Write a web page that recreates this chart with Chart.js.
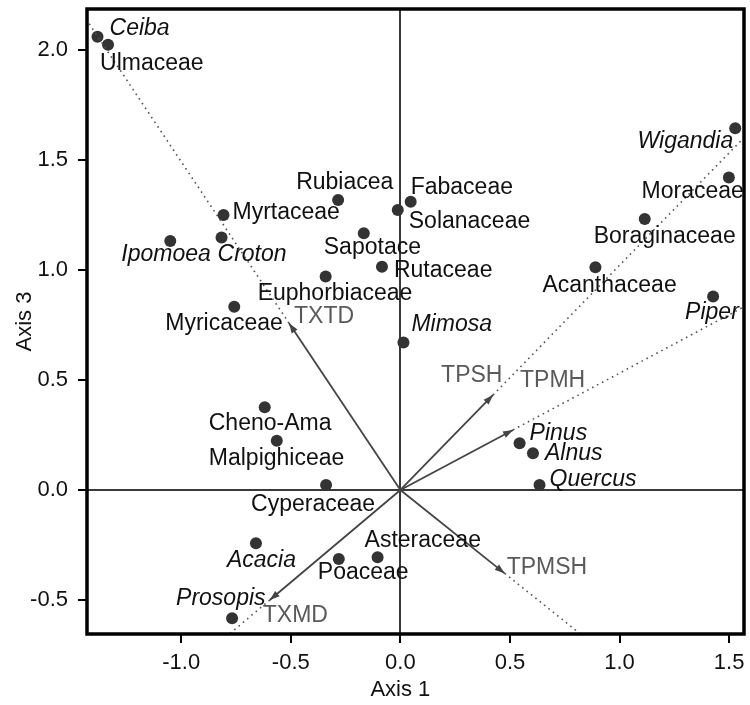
<!DOCTYPE html>
<html>
<head>
<meta charset="utf-8">
<style>
  html, body { margin: 0; padding: 0; background: #fff; }
</style>
</head>
<body>
<canvas id="myChart" width="750" height="705"></canvas>
<script src="https://cdn.jsdelivr.net/npm/chart.js@4.4.1/dist/chart.umd.min.js"></script>
<script>
// taxa scores on axis 1 / axis 3
const taxa = [
  "Ceiba", "Ulmaceae", "Myrtaceae", "Croton", "Ipomoea", "Rubiacea",
  "Sapotace", "Euphorbiaceae", "Myricaceae", "Fabaceae", "Solanaceae",
  "Rutaceae", "Mimosa", "Wigandia", "Moraceae", "Boraginaceae",
  "Acanthaceae", "Piper", "Cheno-Ama", "Malpighiceae", "Cyperaceae",
  "Acacia", "Prosopis", "Poaceae", "Asteraceae", "Pinus", "Alnus", "Quercus",
];
const axis1 = [
  -1.382, -1.334, -0.807, -0.816, -1.050, -0.284,
  -0.167, -0.341, -0.758, 0.047, -0.012,
  -0.084, 0.014, 1.528, 1.499, 1.115,
  0.890, 1.427, -0.619, -0.564, -0.339,
  -0.659, -0.768, -0.281, -0.104, 0.544, 0.605, 0.635,
];
const axis3 = [
  2.060, 2.023, 1.250, 1.147, 1.132, 1.318,
  1.167, 0.970, 0.833, 1.310, 1.273,
  1.015, 0.670, 1.644, 1.420, 1.232,
  1.012, 0.879, 0.376, 0.224, 0.023,
  -0.242, -0.583, -0.314, -0.306, 0.212, 0.167, 0.023,
];
// genera are printed in italics
const genera = ["Ceiba", "Croton", "Ipomoea", "Mimosa", "Wigandia", "Piper",
  "Acacia", "Prosopis", "Pinus", "Alnus", "Quercus"];

// environmental vectors
const vectors = ["TXTD", "TXMD", "TPSH", "TPMH", "TPMSH"];
const vecAxis1 = [-0.508, -0.596, 0.423, 0.514, 0.476];
const vecAxis3 = [0.758, -0.500, 0.432, 0.273, -0.379];

const xTicks = [-1.0, -0.5, 0.0, 0.5, 1.0, 1.5];
const yTicks = [-0.5, 0.0, 0.5, 1.0, 1.5, 2.0];

// label placement (pixel offset from the point, text alignment)
const taxaLabelPos = [
  [12, -8, "left"], [-8, 19, "left"], [9, -2, "left"], [-4, 17, "left"],
  [-49, 14, "left"], [-42, -17, "left"], [-40, 14, "left"], [-68, 17, "left"],
  [-69, 17, "left"], [0, -14, "left"], [11, 12, "left"], [12, 4, "left"],
  [8, -18, "left"], [-2, 13, "right"], [15, 14, "right"], [-51, 18, "left"],
  [-53, 18, "left"], [-28, 16, "left"], [-56, 16, "left"], [-68, 18, "left"],
  [-75, 20, "left"], [-29, 17, "left"], [-56, -20, "left"], [-21, 14, "left"],
  [-13, -17, "left"], [10, -10, "left"], [12, 0, "left"], [10, -5, "left"],
];
const vecLabelPos = [[5, -7], [-7, 16], [-52, -19], [7, -49], [2, -6]];

const FONT = "'Liberation Sans', Arial, sans-serif";
const LABEL_SIZE = 23;

const ctx = document.getElementById("myChart").getContext("2d");

const datasets = [];
vectors.forEach((v, i) => {
  datasets.push({
    data: [{ x: 0, y: 0 }, { x: vecAxis1[i], y: vecAxis3[i] }],
    showLine: true,
    borderColor: "#444",
    borderWidth: 1.8,
    pointRadius: 0,
  });
  datasets.push({
    data: [{ x: vecAxis1[i], y: vecAxis3[i] }, { x: vecAxis1[i] * 8, y: vecAxis3[i] * 8 }],
    showLine: true,
    borderColor: "#555",
    borderWidth: 1.6,
    borderDash: [1.6, 4],
    pointRadius: 0,
  });
});
datasets.push({
  data: taxa.map((t, i) => ({ x: axis1[i], y: axis3[i] })),
  pointRadius: 6,
  pointBackgroundColor: "#333",
  pointBorderWidth: 0,
  showLine: false,
});

const biplotExtras = {
  id: "biplotExtras",
  afterDatasetsDraw(chart) {
    const c = chart.ctx;
    const xs = chart.scales.x;
    const ys = chart.scales.y;
    const ox = xs.getPixelForValue(0);
    const oy = ys.getPixelForValue(0);

    // arrow heads
    c.save();
    c.fillStyle = "#444";
    vectors.forEach((v, i) => {
      const px = xs.getPixelForValue(vecAxis1[i]);
      const py = ys.getPixelForValue(vecAxis3[i]);
      const a = Math.atan2(py - oy, px - ox);
      const len = 10, half = 3.5;
      c.beginPath();
      c.moveTo(px, py);
      c.lineTo(px - len * Math.cos(a) + half * Math.sin(a), py - len * Math.sin(a) - half * Math.cos(a));
      c.lineTo(px - len * Math.cos(a) - half * Math.sin(a), py - len * Math.sin(a) + half * Math.cos(a));
      c.closePath();
      c.fill();
    });

    // taxa labels
    c.textBaseline = "middle";
    c.fillStyle = "#111";
    taxa.forEach((t, i) => {
      const px = xs.getPixelForValue(axis1[i]);
      const py = ys.getPixelForValue(axis3[i]);
      const [dx, dy, align] = taxaLabelPos[i];
      c.font = (genera.includes(t) ? "italic " : "") + LABEL_SIZE + "px " + FONT;
      c.textAlign = align;
      c.fillText(t, px + dx, py + dy);
    });

    // vector labels
    c.fillStyle = "#5a5a5a";
    c.font = LABEL_SIZE + "px " + FONT;
    c.textAlign = "left";
    vectors.forEach((v, i) => {
      const px = xs.getPixelForValue(vecAxis1[i]);
      const py = ys.getPixelForValue(vecAxis3[i]);
      c.fillText(v, px + vecLabelPos[i][0], py + vecLabelPos[i][1]);
    });

    // x axis title, centred under the origin as in the original figure
    c.fillStyle = "#111";
    c.font = "22px " + FONT;
    c.textAlign = "center";
    c.fillText("Axis 1", ox, 690);
    c.restore();
  },
  afterDraw(chart) {
    const { left, top, right, bottom } = chart.chartArea;
    const c = chart.ctx;
    c.save();
    c.strokeStyle = "#000";
    c.lineWidth = 3.5;
    c.strokeRect(left, top, right - left, bottom - top);
    c.restore();
  },
};

const gridOpts = {
  drawOnChartArea: true,
  color: (c) => (c.tick && c.tick.value === 0 ? "#3a3a3a" : "rgba(0,0,0,0)"),
  lineWidth: (c) => (c.tick && c.tick.value === 0 ? 2 : 0),
  tickColor: "#000",
  tickWidth: 2,
  tickLength: 9,
};

new Chart(ctx, {
  type: "scatter",
  data: { datasets },
  options: {
    responsive: false,
    animation: false,
    layout: { padding: { top: 9, right: 3, left: 0, bottom: 0 } },
    scales: {
      x: {
        type: "linear",
        min: -1.430,
        max: 1.568,
        afterBuildTicks: (s) => { s.ticks = xTicks.map((v) => ({ value: v })); },
        afterFit: (s) => { s.height = 71; s.paddingLeft = 0; s.paddingRight = 0; },
        grid: gridOpts,
        border: { display: false },
        ticks: {
          padding: 7,
          color: "#111",
          font: { family: FONT, size: 22 },
          callback: (v) => Number(v).toFixed(1),
        },
      },
      y: {
        type: "linear",
        min: -0.6545,
        max: 2.186,
        afterBuildTicks: (s) => { s.ticks = yTicks.map((v) => ({ value: v })); },
        afterFit: (s) => { s.width = 87; s.paddingTop = 0; s.paddingBottom = 0; },
        grid: gridOpts,
        border: { display: false },
        ticks: {
          padding: 10,
          color: "#111",
          font: { family: FONT, size: 22 },
          callback: (v) => Number(v).toFixed(1),
        },
        title: {
          display: true,
          text: "Axis 3",
          color: "#111",
          font: { family: FONT, size: 22 },
          padding: { top: 12, bottom: 0 },
        },
      },
    },
    plugins: {
      legend: { display: false },
      tooltip: { enabled: false },
    },
  },
  plugins: [biplotExtras],
});
</script>
</body>
</html>
